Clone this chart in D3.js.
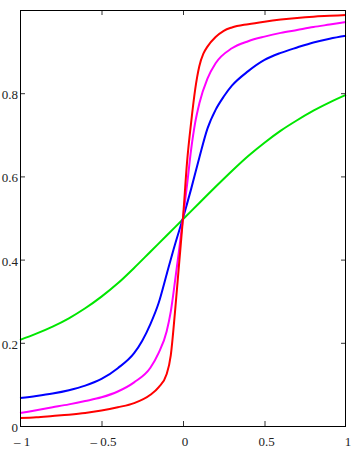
<!DOCTYPE html>
<html>
<head>
<meta charset="utf-8">
<title>Sigmoid curves</title>
<script src="https://cdn.jsdelivr.net/npm/d3@7"></script>
<style>
  body { margin: 0; background: #fff; }
  .tick-label { font-family: "Liberation Serif", "Times New Roman", serif; font-size: 13px; fill: #222; }
</style>
</head>
<body>
<div id="chart"></div>
<script>
// values
const redX = [-1, -0.9, -0.8, -0.7, -0.6, -0.5, -0.4, -0.3, -0.2, -0.15, -0.1, -0.075, -0.05, -0.025, 0, 0.025, 0.05, 0.075, 0.1, 0.125, 0.15, 0.2, 0.25, 0.3, 0.4, 0.5, 0.6, 0.7, 0.8, 0.9, 1];
const redY = [0.019, 0.021, 0.024, 0.027, 0.031, 0.037, 0.045, 0.055, 0.075, 0.093, 0.125, 0.17, 0.27, 0.385, 0.5, 0.635, 0.73, 0.81, 0.865, 0.895, 0.912, 0.935, 0.95, 0.958, 0.966, 0.972, 0.977, 0.981, 0.984, 0.986, 0.988];

const magentaX = [-1, -0.9, -0.8, -0.7, -0.6, -0.5, -0.4, -0.3, -0.2, -0.15, -0.1, -0.075, -0.05, -0.025, 0, 0.025, 0.05, 0.075, 0.1, 0.15, 0.2, 0.3, 0.4, 0.5, 0.6, 0.7, 0.8, 0.9, 1];
const magentaY = [0.031, 0.038, 0.045, 0.052, 0.06, 0.069, 0.083, 0.105, 0.14, 0.175, 0.228, 0.275, 0.345, 0.42, 0.5, 0.58, 0.665, 0.73, 0.775, 0.835, 0.872, 0.908, 0.925, 0.936, 0.945, 0.952, 0.959, 0.965, 0.971];

const blueX = [-1, -0.9, -0.8, -0.7, -0.6, -0.5, -0.4, -0.3, -0.25, -0.2, -0.15, -0.1, -0.05, 0, 0.05, 0.1, 0.15, 0.2, 0.25, 0.3, 0.4, 0.5, 0.6, 0.7, 0.8, 0.9, 1];
const blueY = [0.067, 0.072, 0.078, 0.086, 0.097, 0.113, 0.139, 0.175, 0.205, 0.245, 0.295, 0.365, 0.435, 0.5, 0.57, 0.645, 0.715, 0.76, 0.792, 0.818, 0.853, 0.88, 0.897, 0.91, 0.922, 0.931, 0.938];

const greenX = [-1, -0.9, -0.8, -0.7, -0.6, -0.5, -0.4, -0.3, -0.2, -0.1, 0, 0.1, 0.2, 0.3, 0.4, 0.5, 0.6, 0.7, 0.8, 0.9, 1];
const greenY = [0.207, 0.222, 0.239, 0.259, 0.283, 0.311, 0.343, 0.38, 0.419, 0.458, 0.497, 0.536, 0.575, 0.613, 0.649, 0.681, 0.71, 0.735, 0.758, 0.778, 0.796];

const xTicks = [-1, -0.5, 0, 0.5, 1];
const xTickLabels = ["\u2013 1", "\u2013 0.5", "0", "0.5", "1"];
const yTicks = [0, 0.2, 0.4, 0.6, 0.8];
const yTickLabels = ["0", "0.2", "0.4", "0.6", "0.8"];

const seriesList = [
  { name: "green", xs: greenX, ys: greenY, color: "#00e600" },
  { name: "blue", xs: blueX, ys: blueY, color: "#0000ff" },
  { name: "magenta", xs: magentaX, ys: magentaY, color: "#ff00ff" },
  { name: "red", xs: redX, ys: redY, color: "#ff0000" }
];

const W = 358, H = 452;
const plotLeft = 20, plotRight = 346, plotTop = 10, plotBottom = 426;

const svg = d3.select('#chart').append('svg')
    .attr('width', W)
    .attr('height', H);

const x = d3.scaleLinear().domain([-1, 1]).range([plotLeft, plotRight]);
const y = d3.scaleLinear().domain([0, 1]).range([plotBottom, plotTop]);

// curves
const line = d3.line()
    .x(d => x(d[0]))
    .y(d => y(d[1]))
    .curve(d3.curveMonotoneX);

svg.append('g').selectAll('path')
    .data(seriesList)
  .enter().append('path')
    .attr('fill', 'none')
    .attr('stroke', d => d.color)
    .attr('stroke-width', 2)
    .attr('d', d => line(d.xs.map((v, i) => [v, d.ys[i]])));

// inner ticks on all four sides
const tickLen = 5;
const innerX = xTicks.slice(1, -1);
const innerY = yTicks.slice(1);

svg.append('g')
    .attr('transform', 'translate(0,' + plotBottom + ')')
    .call(d3.axisTop(x).tickValues(innerX).tickSize(tickLen).tickFormat(''))
    .call(g => g.select('.domain').remove());
svg.append('g')
    .attr('transform', 'translate(0,' + plotTop + ')')
    .call(d3.axisBottom(x).tickValues(innerX).tickSize(tickLen).tickFormat(''))
    .call(g => g.select('.domain').remove());
svg.append('g')
    .attr('transform', 'translate(' + plotLeft + ',0)')
    .call(d3.axisRight(y).tickValues(innerY).tickSize(tickLen).tickFormat(''))
    .call(g => g.select('.domain').remove());
svg.append('g')
    .attr('transform', 'translate(' + plotRight + ',0)')
    .call(d3.axisLeft(y).tickValues(innerY).tickSize(tickLen).tickFormat(''))
    .call(g => g.select('.domain').remove());
svg.selectAll('.tick line').attr('stroke', '#333');

// frame
svg.append('rect')
    .attr('x', plotLeft + 0.5)
    .attr('y', plotTop + 0.5)
    .attr('width', plotRight - plotLeft - 1)
    .attr('height', plotBottom - plotTop)
    .attr('fill', 'none')
    .attr('stroke', '#000')
    .attr('stroke-width', 1);

// tick labels
svg.append('g').selectAll('text')
    .data(xTicks)
  .enter().append('text')
    .attr('class', 'tick-label')
    .attr('x', d => x(d) + 2)
    .attr('y', 446)
    .attr('text-anchor', 'middle')
    .text((d, i) => xTickLabels[i]);

svg.append('g').selectAll('text')
    .data(yTicks)
  .enter().append('text')
    .attr('class', 'tick-label')
    .attr('x', 18)
    .attr('y', d => y(d) + 6)
    .attr('text-anchor', 'end')
    .text((d, i) => yTickLabels[i]);
</script>
</body>
</html>
